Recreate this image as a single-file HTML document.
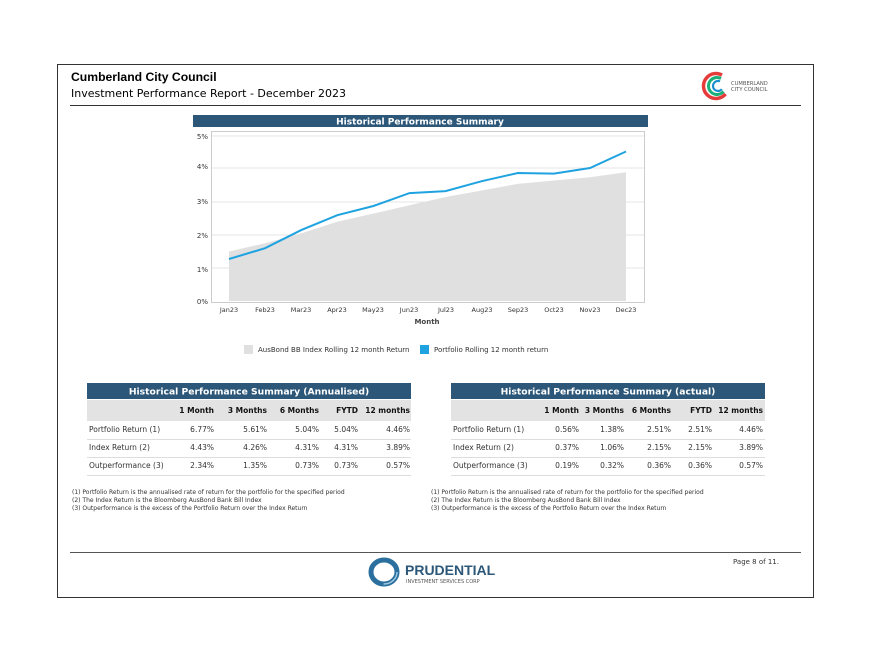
<!DOCTYPE html>
<html><head><meta charset="utf-8"><style>
html,body{margin:0;padding:0;background:#fff;width:870px;height:660px;overflow:hidden}
text{font-family:"DejaVu Sans","Liberation Sans",sans-serif}
</style></head><body>
<svg width="870" height="660" viewBox="0 0 870 660" xmlns="http://www.w3.org/2000/svg">
<rect x="57.5" y="64.5" width="756" height="533" fill="#fff" stroke="#333" stroke-width="1"/>
<text x="71" y="81" font-weight="bold" font-size="12.2" fill="#000" style="font-family:'Liberation Sans'">Cumberland City Council</text>
<text x="71" y="97" font-size="11" fill="#000">Investment Performance Report - December 2023</text>
<line x1="70" y1="105.5" x2="801" y2="105.5" stroke="#333"/>
<!-- council logo -->
<circle cx="716" cy="86" r="12.5" fill="none" stroke="#e63b3b" stroke-width="3.5" stroke-dasharray="56 23" transform="rotate(40 716 86)"/>
<circle cx="717" cy="86" r="8.5" fill="none" stroke="#1bb07a" stroke-width="3" stroke-dasharray="38 16" transform="rotate(40 717 86)"/>
<circle cx="718" cy="86" r="5" fill="none" stroke="#1a8fd0" stroke-width="2.2" stroke-dasharray="22 10" transform="rotate(40 718 86)"/>
<text x="731" y="85" font-size="5.2" fill="#555">CUMBERLAND</text>
<text x="731" y="91" font-size="5.2" fill="#555">CITY COUNCIL</text>
<!-- chart -->
<rect x="193" y="115" width="455" height="12" fill="#2c5779"/>
<text x="420" y="124.5" font-size="9" font-weight="bold" fill="#fff" text-anchor="middle">Historical Performance Summary</text>
<rect x="211.5" y="131.5" width="433" height="171" fill="#fff" stroke="#ccc"/>
<g stroke="#e4e4e4" stroke-width="1">
<line x1="212" y1="136" x2="644" y2="136"/><line x1="212" y1="168" x2="644" y2="168"/><line x1="212" y1="202" x2="644" y2="202"/><line x1="212" y1="235" x2="644" y2="235"/><line x1="212" y1="268" x2="644" y2="268"/>
</g>
<polygon fill="#e0e0e0" points="229,301 229,251.5 265.1,243.25 301.2,233.35 337.3,221.8 373.4,213.55 409.5,205.3 445.6,197 481.7,190.45 517.8,183.85 553.9,180.55 590,177.25 626,172.3 626,301"/>
<polyline fill="none" stroke="#1fa3e0" stroke-width="2" points="229,259 265.1,248.2 301.2,230.05 337.3,215.2 373.4,206 409.5,193.1 445.6,191.1 481.7,181.2 517.8,173 553.9,173.6 590,168 626,151.5"/>
<g font-size="7" fill="#333" text-anchor="end">
<text x="208" y="139">5%</text><text x="208" y="169">4%</text><text x="208" y="204">3%</text><text x="208" y="238">2%</text><text x="208" y="272">1%</text><text x="208" y="304">0%</text>
</g>
<g font-size="6.5" fill="#333" text-anchor="middle">
<text x="229" y="312">Jan23</text><text x="265" y="312">Feb23</text><text x="301" y="312">Mar23</text><text x="337" y="312">Apr23</text><text x="373" y="312">May23</text><text x="409" y="312">Jun23</text><text x="446" y="312">Jul23</text><text x="482" y="312">Aug23</text><text x="518" y="312">Sep23</text><text x="554" y="312">Oct23</text><text x="590" y="312">Nov23</text><text x="626" y="312">Dec23</text>
</g>
<text x="427" y="324" font-size="7" font-weight="bold" fill="#444" text-anchor="middle">Month</text>
<rect x="244" y="345" width="9" height="9" fill="#e0e0e0"/>
<text x="258" y="352" font-size="7" fill="#333">AusBond BB Index Rolling 12 month Return</text>
<rect x="420" y="345" width="9" height="9" fill="#1fa3e0"/>
<text x="434" y="352" font-size="7" fill="#333">Portfolio Rolling 12 month return</text>
<!-- left table -->
<rect x="87" y="383" width="324" height="16" fill="#2c5779"/>
<text x="249" y="394.5" font-size="9.2" font-weight="bold" fill="#fff" text-anchor="middle">Historical Performance Summary (Annualised)</text>
<rect x="87" y="400" width="324" height="21" fill="#e3e3e3"/>
<g font-size="7.5" font-weight="bold" fill="#111" text-anchor="end">
<text x="214" y="413">1 Month</text><text x="267" y="413">3 Months</text><text x="319" y="413">6 Months</text><text x="358" y="413">FYTD</text><text x="410" y="413">12 months</text>
</g>
<g font-size="7.5" fill="#333">
<text x="89" y="432">Portfolio Return (1)</text><text x="89" y="450">Index Return (2)</text><text x="89" y="468">Outperformance (3)</text>
</g>
<g font-size="7.5" fill="#333" text-anchor="end">
<text x="214" y="432">6.77%</text><text x="267" y="432">5.61%</text><text x="319" y="432">5.04%</text><text x="358" y="432">5.04%</text><text x="410" y="432">4.46%</text>
<text x="214" y="450">4.43%</text><text x="267" y="450">4.26%</text><text x="319" y="450">4.31%</text><text x="358" y="450">4.31%</text><text x="410" y="450">3.89%</text>
<text x="214" y="468">2.34%</text><text x="267" y="468">1.35%</text><text x="319" y="468">0.73%</text><text x="358" y="468">0.73%</text><text x="410" y="468">0.57%</text>
</g>
<g stroke="#ddd"><line x1="87" y1="439.5" x2="411" y2="439.5"/><line x1="87" y1="457.5" x2="411" y2="457.5"/><line x1="87" y1="475.5" x2="411" y2="475.5"/></g>
<g font-size="6" fill="#333">
<text x="72" y="494">(1) Portfolio Return is the annualised rate of return for the portfolio for the specified period</text>
<text x="72" y="502">(2) The Index Return is the Bloomberg AusBond Bank Bill Index</text>
<text x="72" y="510">(3) Outperformance is the excess of the Portfolio Return over the Index Return</text>
</g>
<!-- right table -->
<rect x="451" y="383" width="314" height="16" fill="#2c5779"/>
<text x="608" y="394.5" font-size="9.2" font-weight="bold" fill="#fff" text-anchor="middle">Historical Performance Summary (actual)</text>
<rect x="451" y="400" width="314" height="21" fill="#e3e3e3"/>
<g font-size="7.5" font-weight="bold" fill="#111" text-anchor="end">
<text x="579" y="413">1 Month</text><text x="624" y="413">3 Months</text><text x="671" y="413">6 Months</text><text x="712" y="413">FYTD</text><text x="763" y="413">12 months</text>
</g>
<g font-size="7.5" fill="#333">
<text x="453" y="432">Portfolio Return (1)</text><text x="453" y="450">Index Return (2)</text><text x="453" y="468">Outperformance (3)</text>
</g>
<g font-size="7.5" fill="#333" text-anchor="end">
<text x="579" y="432">0.56%</text><text x="624" y="432">1.38%</text><text x="671" y="432">2.51%</text><text x="712" y="432">2.51%</text><text x="763" y="432">4.46%</text>
<text x="579" y="450">0.37%</text><text x="624" y="450">1.06%</text><text x="671" y="450">2.15%</text><text x="712" y="450">2.15%</text><text x="763" y="450">3.89%</text>
<text x="579" y="468">0.19%</text><text x="624" y="468">0.32%</text><text x="671" y="468">0.36%</text><text x="712" y="468">0.36%</text><text x="763" y="468">0.57%</text>
</g>
<g stroke="#ddd"><line x1="451" y1="439.5" x2="765" y2="439.5"/><line x1="451" y1="457.5" x2="765" y2="457.5"/><line x1="451" y1="475.5" x2="765" y2="475.5"/></g>
<g font-size="6" fill="#333">
<text x="431" y="494">(1) Portfolio Return is the annualised rate of return for the portfolio for the specified period</text>
<text x="431" y="502">(2) The Index Return is the Bloomberg AusBond Bank Bill Index</text>
<text x="431" y="510">(3) Outperformance is the excess of the Portfolio Return over the Index Return</text>
</g>
<!-- footer -->
<line x1="70" y1="552.5" x2="801" y2="552.5" stroke="#555"/>
<ellipse cx="384" cy="572" rx="13" ry="12" fill="none" stroke="#2a6f9e" stroke-width="5"/>
<ellipse cx="384" cy="572" rx="13" ry="12" fill="none" stroke="#9cc7e3" stroke-width="1.5" stroke-dasharray="20 60"/>
<text x="405" y="575" font-size="14" fill="#2c5779" font-weight="bold" style="font-family:'Liberation Sans'">PRUDENTIAL</text>
<text x="406" y="583" font-size="5" fill="#555">INVESTMENT SERVICES CORP</text>
<text x="733" y="564" font-size="7" fill="#333">Page 8 of 11.</text>
</svg>
</body></html>
